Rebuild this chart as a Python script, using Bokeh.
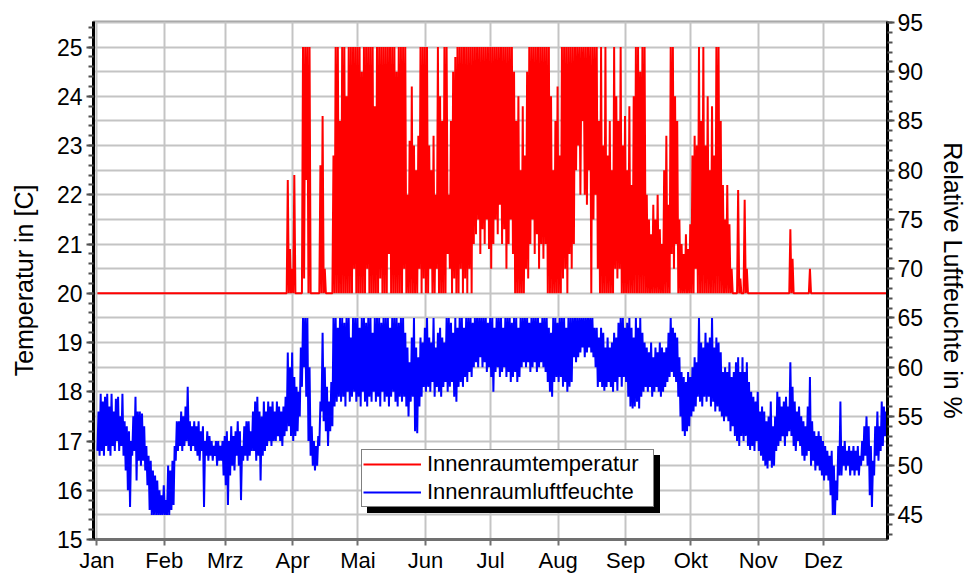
import numpy as np
from bokeh.plotting import figure
from bokeh.models import (Range1d, LinearAxis, SingleIntervalTicker, FixedTicker,
                          Legend, LegendItem, ColumnDataSource)
from bokeh.embed import file_html
from bokeh.resources import INLINE

# ---------------- data (one value pair per day) -------------
month_names = ["Jan", "Feb", "Mrz", "Apr", "Mai", "Jun", "Jul", "Aug", "Sep", "Okt", "Nov", "Dez"]
month_start = [0, 31, 59, 90, 120, 151, 181, 212, 243, 273, 304, 334]

# relative humidity [%], daily minimum / maximum (days 0..363)
hum_min = [
    51.5, 51.0, 51.5, 51.0, 52.0, 51.5, 51.0, 52.0, 51.5, 52.5,
    51.5, 52.0, 51.0, 49.5, 47.5, 45.8, 51.0, 51.5, 48.5, 50.5,
    50.0, 50.5, 49.5, 48.0, 45.5, 45.0, 45.0, 45.0, 45.0, 45.0,
    45.0, 45.0, 45.0, 45.0, 45.5, 46.0, 50.5, 51.5, 52.0, 51.5,
    52.0, 52.5, 52.0, 51.5, 52.0, 51.5, 51.0, 50.5, 51.5, 45.8,
    51.0, 50.5, 51.0, 50.5, 51.0, 50.0, 50.5, 50.5, 49.0, 48.0,
    46.0, 49.0, 50.0, 49.5, 51.0, 50.0, 46.5, 50.5, 51.0, 50.5,
    51.0, 51.5,
    51.5, 50.5, 51.0, 48.5, 51.0, 51.5, 52.0, 52.5, 52.0, 52.5,
    52.5, 53.0, 52.5, 52.0, 53.0, 53.5, 54.0, 53.0, 52.5, 53.0,
    53.5, 55.0, 58.0, 60.0, 57.0, 52.5, 51.0, 50.0, 49.5, 50.0,
    52.0, 55.5, 54.5, 53.5, 52.0, 53.5, 54.0, 56.0, 56.5, 57.0,
    56.5, 57.0, 56.0, 57.5, 56.5, 57.0, 57.5, 56.5, 57.0, 56.0,
    57.5, 56.5, 56.0, 57.0, 56.5, 57.5, 56.5, 57.0, 56.0, 57.5,
    56.5, 57.0, 56.0, 57.0, 57.5, 56.5, 56.0, 57.0, 56.5, 57.0,
    56.0, 55.0, 56.5, 57.0,
    53.5, 53.3, 56.0, 57.0, 58.0, 57.5, 58.0, 57.5, 58.5, 57.0,
    58.0, 57.5, 57.0, 58.0, 58.5, 57.5, 58.0, 58.5, 57.0, 56.5,
    58.0, 58.5, 58.0, 59.0, 58.5, 59.5, 59.0, 60.0, 60.5, 60.0,
    61.0, 60.0, 60.5, 59.5, 60.0, 59.0, 57.5, 59.5, 60.0, 59.0,
    59.5, 60.0, 59.0, 59.5, 58.5, 59.0, 59.5, 58.5, 59.0, 60.0,
    60.5, 60.0, 60.5, 59.5, 60.0, 60.5, 59.5, 60.0, 60.5, 60.0,
    59.5, 58.5, 57.5, 57.0, 58.5, 59.0, 58.5, 59.0, 58.0, 58.5,
    57.5, 58.0, 58.5,
    61.0, 60.5, 61.0, 61.5, 62.0, 61.0, 61.5, 62.0, 61.5, 61.0,
    60.0, 58.0, 58.5, 58.0, 57.6, 58.0, 58.5, 58.0, 57.5, 58.5,
    57.6, 59.0, 58.0, 59.0, 58.5, 57.0, 56.0, 55.8, 56.0, 56.5,
    55.8, 57.0, 57.5, 58.0, 57.5, 58.0, 57.0, 57.5, 58.0, 57.5,
    57.0, 57.5, 58.0, 58.5, 59.0, 59.5, 59.0, 58.5, 57.0, 55.0,
    53.5, 53.0, 53.5, 54.0, 55.0, 55.5, 56.0, 57.0, 56.5, 56.0,
    57.0, 56.5, 57.0, 56.0, 56.5, 55.5, 56.0, 55.5, 55.0, 54.5,
    55.0, 54.5, 53.5, 54.0,
    53.0, 52.5, 52.0, 53.0, 52.5, 53.0, 52.0, 51.6, 52.0, 51.5,
    52.5, 51.5, 51.0, 50.5, 50.0, 49.7, 50.5, 49.8, 50.0, 51.5,
    52.0, 52.5, 53.0, 52.0, 53.0, 53.5, 53.0, 52.0, 51.5, 52.5,
    52.0, 51.0, 50.5, 51.0, 51.5, 50.0, 50.5, 49.5, 50.0, 49.5,
    49.0, 48.5, 49.0, 48.5, 47.0, 45.0, 45.0, 46.5, 49.0, 49.0,
    50.0, 49.5, 50.0, 49.0, 49.5, 49.0, 49.5, 49.0, 50.0, 50.5,
    51.0, 50.0, 47.0, 45.8, 49.0, 51.0, 50.5, 51.5, 52.0, 53.0,
    52.5,
]
hum_max = [
    55.5, 57.3, 56.5, 57.0, 57.3, 56.0, 57.3, 55.5, 56.8, 57.0,
    55.0, 57.3, 54.5, 54.0, 53.5, 52.5, 55.0, 57.0, 55.5, 55.5,
    55.3, 54.0, 52.0, 51.0, 50.5, 49.5, 49.0, 48.5, 47.5, 47.0,
    48.0, 46.5, 50.0, 49.5, 50.5, 52.0, 54.5, 54.5, 55.5, 55.0,
    56.0, 58.0, 54.5, 54.0, 54.5, 54.0, 54.5, 53.5, 54.0, 52.5,
    53.5, 53.0, 52.5, 52.0, 52.5, 52.5, 52.0, 52.5, 53.0, 53.5,
    52.5, 54.0, 53.0, 53.5, 54.5, 53.5, 52.0, 54.0, 54.5, 54.5,
    53.5, 55.5,
    56.5, 57.0, 55.5, 55.0, 56.5, 55.5, 56.5, 56.0, 56.5, 55.5,
    56.5, 56.0, 55.5, 56.0, 57.0, 61.5, 60.0, 61.5, 59.0, 58.0,
    57.5, 62.0, 65.0, 65.0, 65.0, 60.0, 54.0, 52.5, 52.0, 53.0,
    56.5, 63.5, 60.0, 58.0, 56.5, 58.5, 65.0, 65.0, 64.0, 65.0,
    65.0, 64.5, 65.0, 65.0, 63.0, 65.0, 65.0, 65.0, 64.0, 65.0,
    65.0, 64.5, 65.0, 65.0, 63.5, 65.0, 65.0, 65.0, 64.5, 65.0,
    65.0, 65.0, 64.0, 65.0, 65.0, 65.0, 64.5, 65.0, 65.0, 63.5,
    62.0, 60.5, 63.0, 65.0,
    62.0, 61.0, 63.0, 62.5, 64.0, 65.0, 63.0, 62.5, 65.0, 62.0,
    63.5, 64.0, 63.0, 62.5, 65.0, 65.0, 64.5, 63.5, 65.0, 64.0,
    65.0, 65.0, 64.0, 65.0, 65.0, 65.0, 64.5, 65.0, 65.0, 65.0,
    65.0, 65.0, 65.0, 64.5, 65.0, 65.0, 64.0, 65.0, 65.0, 65.0,
    64.0, 65.0, 65.0, 65.0, 64.5, 65.0, 65.0, 64.0, 65.0, 65.0,
    65.0, 65.0, 64.5, 65.0, 65.0, 65.0, 65.0, 64.5, 65.0, 65.0,
    65.0, 64.0, 63.5, 65.0, 65.0, 64.5, 65.0, 65.0, 65.0, 64.0,
    65.0, 65.0, 65.0,
    65.0, 65.0, 65.0, 65.0, 65.0, 65.0, 65.0, 65.0, 65.0, 64.0,
    64.0, 63.0, 64.0, 63.5, 62.0, 63.0, 62.0, 62.5, 63.5, 63.0,
    64.5, 65.0, 65.0, 64.0, 64.5, 65.0, 64.0, 63.0, 65.0, 64.0,
    65.0, 63.5, 62.5, 62.0, 61.5, 62.5, 61.0, 62.0, 61.5, 62.5,
    62.0, 61.5, 62.0, 63.5, 65.0, 64.0, 63.5, 63.0, 61.0, 59.5,
    59.0, 58.5, 59.5, 59.0, 60.0, 61.0, 60.5, 65.0, 62.5, 62.0,
    63.5, 62.5, 63.0, 65.0, 62.0, 63.0, 62.5, 61.5, 59.5, 60.0,
    59.5, 60.5, 59.0, 59.5,
    60.5, 61.0, 59.5, 61.0, 59.5, 60.5, 58.5, 57.5, 57.0, 56.5,
    57.5, 55.5, 56.0, 55.5, 54.5, 55.0, 56.5, 54.0, 55.0, 57.5,
    57.0, 56.0, 56.5, 57.0, 56.0, 60.5, 58.0, 56.5, 55.5, 56.0,
    55.0, 54.5, 54.0, 56.0, 59.0, 54.5, 53.5, 53.0, 53.5, 53.0,
    52.5, 52.0, 51.5, 51.0, 51.5, 50.0, 48.5, 52.0, 56.5, 52.0,
    52.5, 51.5, 52.0, 51.5, 52.0, 51.5, 52.0, 51.0, 52.5, 54.0,
    55.0, 54.0, 52.0, 50.5, 54.0, 55.5, 54.0, 56.5, 56.0, 55.5,
    55.0,
]

# indoor temperature [C], daily minimum / maximum (days 0..363)
temp_min = ([20.0] * 95 + [20.3, 22.3] + [20.0] * 21 + [20.5] + [20.0] * 5 + [20.5]
            + [20.0] * 5 + [20.3] + [20.0] * 3 + [20.8] + [20.0] * 6 + [20.5] + [20.0] * 6
            + [20.5, 20.0, 20.3, 20.0, 20.0, 20.5, 20.0, 20.0, 20.5] + [20.0] * 4
            + [20.8, 20.5, 20.0, 20.3, 20.0, 20.0, 20.5, 20.0, 20.3, 20.0, 20.5, 20.0]
            + [21.0, 21.2, 21.5, 20.8, 21.3, 21.0, 21.5, 20.9, 20.5, 21.0,
               21.5, 21.2, 21.8, 21.0, 21.3, 20.5, 21.0, 21.5, 20.8]
            + [20.0] * 5 + [20.5, 20.3, 21.0, 21.5, 20.8, 21.2, 20.5, 21.0, 20.7, 21.0]
            + [20.0] * 7
            + [20.3, 20.5, 20.0, 20.8, 20.5, 21.0, 22.5, 23.0, 22.0, 23.5,
               22.0, 21.8, 22.5, 20.0, 21.5, 22.0, 20.5]
            + [20.0] * 7 + [20.5, 20.3, 20.5] + [20.0] * 23 + [20.8, 20.5, 21.0]
            + [20.0] * 8 + [20.5] + [20.0] * 88)
temp_max = ([20.0] * 87
            + [22.3, 20.9, 20.5, 22.4, 20.0, 20.0, 20.0, 25.0, 25.0, 25.0,
               25.0, 20.0, 20.0, 20.0, 20.0, 22.6, 23.6, 20.5, 20.0, 20.0,
               20.0, 22.8, 25.0, 25.0, 23.5, 25.0, 25.0, 24.0, 25.0, 25.0,
               25.0, 25.0, 25.0, 25.0, 24.5, 25.0, 25.0, 25.0, 25.0, 25.0,
               23.8, 25.0, 25.0, 25.0, 25.0, 25.0, 25.0, 25.0, 25.0, 25.0,
               24.5, 25.0, 25.0, 25.0, 25.0, 22.0, 23.1, 24.2, 23.0, 22.5,
               23.2, 25.0, 25.0, 25.0, 25.0, 23.0, 22.5, 23.2, 22.0, 25.0,
               24.0, 23.5, 25.0, 25.0, 22.0, 23.5, 24.5, 24.8, 25.0, 25.0,
               25.0, 25.0, 25.0, 25.0, 25.0, 25.0]
            + [25.0] * 18
            + [24.5, 23.5, 24.0, 22.5, 23.8, 22.8, 24.5, 25.0]
            + [25.0] * 9
            + [24.0, 22.5, 23.5, 24.2, 22.8, 25.0]
            + [25.0] * 16
            + [23.5, 25.0, 23.0, 25.0, 22.8, 23.5, 22.5, 25.0, 24.0, 23.5,
               25.0, 23.0, 23.6, 22.5, 23.8, 22.2, 24.0, 25.0, 25.0, 24.5,
               25.0, 25.0, 22.0, 21.5, 21.2, 21.8, 21.5, 22.0, 21.3, 21.0,
               22.5, 23.2, 21.8, 25.0, 25.0, 24.0, 23.5, 21.5, 21.0, 20.8,
               21.2, 20.9, 21.4, 22.8, 23.2, 23.0, 25.0, 23.5, 25.0, 23.0,
               24.0, 22.5, 23.8, 22.8, 25.0, 25.0, 23.5, 22.2, 21.5, 22.2,
               21.4, 20.5, 20.0, 20.0, 22.1, 20.3, 20.0, 21.9, 20.5]
            + [20.0] * 19 + [21.3, 20.7] + [20.0] * 7 + [20.5] + [20.0] * 36)

legend_labels = ["Innenraumtemperatur", "Innenraumluftfeuchte"]

# ---------------- build the day-by-day (min, max) traces -----------------------------
days = np.arange(len(hum_min), dtype=float)
x_trace = np.column_stack([days + 0.25, days + 0.75]).ravel()
hum_trace = np.column_stack([hum_min, hum_max]).ravel()
temp_trace = np.column_stack([temp_min, temp_max]).ravel()

src_t = ColumnDataSource(dict(x=x_trace, y=temp_trace))
src_h = ColumnDataSource(dict(x=x_trace, y=hum_trace))

FONT = "Liberation Sans"

p = figure(width=971, height=575, output_backend="svg", toolbar_location=None,
           x_range=Range1d(-1.55, 363.4), y_range=Range1d(15, 25.52),
           min_border_left=93, min_border_right=84, min_border_top=21, min_border_bottom=35,
           background_fill_color="white", border_fill_color="white")
p.extra_y_ranges = {"rh": Range1d(42.5, 95.1)}

p.outline_line_color = "#a0a0a0"
p.outline_line_width = 2

# grid
p.xgrid.ticker = FixedTicker(ticks=month_start)
p.ygrid.ticker = SingleIntervalTicker(interval=0.5)
p.grid.grid_line_color = "#c4c4c4"
p.grid.grid_line_width = 2

# x axis
xa = p.xaxis[0]
xa.ticker = FixedTicker(ticks=month_start)
xa.major_label_overrides = {d: n for d, n in zip(month_start, month_names)}
xa.minor_tick_line_color = None
xa.major_tick_out = 6
xa.major_tick_in = 0
xa.major_tick_line_color = "#707070"
xa.major_tick_line_width = 2
xa.axis_line_color = "#707070"
xa.axis_line_width = 3
xa.major_label_standoff = 2
xa.major_label_text_font = FONT
xa.major_label_text_font_size = "22px"
xa.major_label_text_color = "black"

# left axis
ya = p.yaxis[0]
ya.ticker = SingleIntervalTicker(interval=1, num_minor_ticks=5)
ya.axis_label = "Temperatur in [C]"

# right axis
ra = LinearAxis(y_range_name="rh", ticker=SingleIntervalTicker(interval=5, num_minor_ticks=5),
                axis_label="Relative Luftfeuchte in %")
p.add_layout(ra, "right")

for ax in (ya, ra):
    ax.axis_line_color = "black"
    ax.axis_line_width = 3
    ax.major_tick_out = 7
    ax.major_tick_in = 0
    ax.minor_tick_out = 5
    ax.minor_tick_in = 0
    ax.major_tick_line_color = "#505050"
    ax.minor_tick_line_color = "#505050"
    ax.major_tick_line_width = 2
    ax.minor_tick_line_width = 2
    ax.major_label_text_font = FONT
    ax.major_label_text_font_size = "23px"
    ax.major_label_text_color = "black"
    ax.axis_label_text_font = FONT
    ax.axis_label_text_font_size = "25px"
    ax.axis_label_text_font_style = "normal"
    ax.axis_label_text_color = "black"
ya.major_label_standoff = 4
ra.major_label_standoff = 3
ya.axis_label_standoff = 16
ra.axis_label_standoff = 13

# series
r_h = p.line("x", "y", source=src_h, y_range_name="rh", line_color="#0000ff", line_width=2)
r_t = p.line("x", "y", source=src_t, line_color="#ff0000", line_width=2)


def make_legend(loc, labels, shadow=False):
    items = [LegendItem(label=labels[0], renderers=[r_t]),
             LegendItem(label=labels[1], renderers=[r_h])]
    return Legend(items=items, location=loc, orientation="vertical",
                  padding=1, spacing=2, margin=0, glyph_width=58, glyph_height=26,
                  label_height=26, label_width=225, label_standoff=6,
                  label_text_font=FONT, label_text_font_size="22px",
                  border_line_color="black", border_line_width=1.5,
                  background_fill_color="black" if shadow else "white",
                  background_fill_alpha=1.0, label_text_color="black")


# drop shadow (same size box, blank labels) drawn first, then the real legend
p.add_layout(make_legend((274, 26), [" ", " "], shadow=True), "center")
p.add_layout(make_legend((268, 32), legend_labels), "center")

open("out.html", "w").write(file_html(p, INLINE))
